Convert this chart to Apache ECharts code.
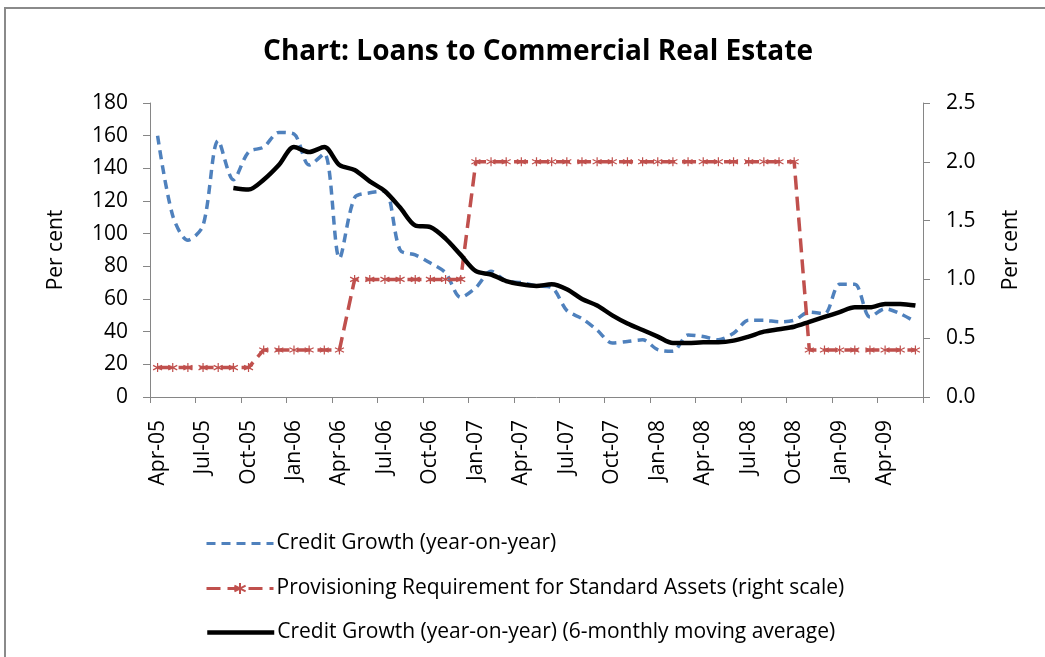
<!DOCTYPE html>
<html>
<head>
<meta charset="utf-8">
<script src="https://cdn.jsdelivr.net/npm/echarts@6/dist/echarts.min.js"></script>
<style>
    html, body {
        margin: 0;
        padding: 0;
        background: #fff;
        overflow: hidden;
    }
    #chart {
        width: 1045px;
        height: 657px;
    }
    .frame {
        position: absolute;
        left: 4px;
        top: 7px;
        width: 1200px;
        height: 800px;
        border: 2px solid #8a8a8a;
        pointer-events: none;
    }
</style>
</head>
<body>
<div id="chart"></div>
<div class="frame"></div>
<script>
// monthly, Apr-05 .. Jun-09
const months = [
    "Apr-05", "May-05", "Jun-05", "Jul-05", "Aug-05", "Sep-05", "Oct-05", "Nov-05", "Dec-05",
    "Jan-06", "Feb-06", "Mar-06", "Apr-06", "May-06", "Jun-06", "Jul-06", "Aug-06", "Sep-06",
    "Oct-06", "Nov-06", "Dec-06", "Jan-07", "Feb-07", "Mar-07", "Apr-07", "May-07", "Jun-07",
    "Jul-07", "Aug-07", "Sep-07", "Oct-07", "Nov-07", "Dec-07", "Jan-08", "Feb-08", "Mar-08",
    "Apr-08", "May-08", "Jun-08", "Jul-08", "Aug-08", "Sep-08", "Oct-08", "Nov-08", "Dec-08",
    "Jan-09", "Feb-09", "Mar-09", "Apr-09", "May-09", "Jun-09",
];

const credit_growth = [
    160, 111, 96, 105, 157, 133, 150, 153, 162,
    161, 142, 149, 85, 122, 125, 126, 90, 87,
    82, 76, 61, 67, 77, 71, 70, 68, 67,
    53, 48, 41, 33, 34, 35, 29, 28, 38,
    37, 35, 39, 47, 47, 46, 47, 52, 51,
    69, 69, 49, 54, 51, 46,
];

const provisioning = [
    0.25, 0.25, 0.25, 0.25, 0.25, 0.25, 0.25, 0.4, 0.4,
    0.4, 0.4, 0.4, 0.4, 1.0, 1.0, 1.0, 1.0, 1.0,
    1.0, 1.0, 1.0, 2.0, 2.0, 2.0, 2.0, 2.0, 2.0,
    2.0, 2.0, 2.0, 2.0, 2.0, 2.0, 2.0, 2.0, 2.0,
    2.0, 2.0, 2.0, 2.0, 2.0, 2.0, 2.0, 0.4, 0.4,
    0.4, 0.4, 0.4, 0.4, 0.4, 0.4,
];

const moving_avg = [
    null, null, null, null, null, 128, 127, 133, 142,
    153, 150, 153, 142, 139, 132, 126, 116, 105,
    104, 97, 87, 77, 75, 71, 69, 68, 69,
    66, 60, 56, 50, 45, 41, 37, 33, 33,
    33.5, 33.5, 34.5, 37, 40, 41.5, 43, 46, 49,
    52, 55, 55, 57, 57, 56,
];

const left_ticks = { min: 0, max: 180, interval: 20 };
const right_ticks = { min: 0, max: 2.5, interval: 0.5 };

const font = "Open Sans";
const asterisk = "path://M5,0L5,10M0.7,2.5L9.3,7.5M9.3,2.5L0.7,7.5";

const names = [
    "Credit Growth (year-on-year)",
    "Provisioning Requirement for Standard Assets (right scale)",
    "Credit Growth (year-on-year) (6-monthly moving average)",
];

const axis_line = { show: true, lineStyle: { color: "#868686", width: 1 } };
const hidden_mark = { color: "transparent", borderColor: "transparent", opacity: 0 };

const legend_at = function (item, top) {
    return {
        data: [item],
        left: 205,
        top: top,
        padding: 0,
        orient: "vertical",
        itemWidth: 67,
        itemHeight: 14,
        itemGap: 6,
        selectedMode: false,
        textStyle: { fontFamily: font, fontSize: 21, color: "#000", padding: [0, 0, 0, -2] },
    };
};

const config = {
    animation: false,
    textStyle: { fontFamily: font },
    title: {
        text: "Chart: Loans to Commercial Real Estate",
        left: 533,
        textAlign: "center",
        top: 33,
        textStyle: { fontFamily: font, fontSize: 28, fontWeight: "bold", color: "#000" },
    },
    grid: { left: 150, right: 122, top: 103, bottom: 260 },
    legend: [
        legend_at({ name: names[0], itemStyle: hidden_mark, lineStyle: { width: 3 } }, 533),
        legend_at({ name: names[1], lineStyle: { width: 3 } }, 578),
        legend_at({ name: names[2], itemStyle: hidden_mark, lineStyle: { width: 4.5 } }, 622),
    ],
    xAxis: {
        type: "category",
        data: months,
        boundaryGap: true,
        axisLine: axis_line,
        axisTick: { show: true, interval: 2, length: 6, lineStyle: { color: "#868686" } },
        axisLabel: {
            interval: 2,
            rotate: 90,
            margin: 23,
            fontFamily: font,
            fontSize: 21,
            color: "#000",
        },
        splitLine: { show: false },
    },
    yAxis: [
        {
            type: "value",
            min: left_ticks.min,
            max: left_ticks.max,
            interval: left_ticks.interval,
            name: "Per cent",
            nameLocation: "middle",
            nameGap: 83,
            nameRotate: 90,
            nameTextStyle: { fontFamily: font, fontSize: 21, color: "#000" },
            axisLine: axis_line,
            axisTick: { show: true, length: 7, lineStyle: { color: "#868686" } },
            axisLabel: { fontFamily: font, fontSize: 21, color: "#000", margin: 22 },
            splitLine: { show: false },
        },
        {
            type: "value",
            position: "right",
            min: right_ticks.min,
            max: right_ticks.max,
            interval: right_ticks.interval,
            name: "Per cent",
            nameLocation: "middle",
            nameGap: 78,
            nameRotate: 90,
            nameTextStyle: { fontFamily: font, fontSize: 21, color: "#000" },
            axisLine: axis_line,
            axisTick: { show: true, length: 7, lineStyle: { color: "#868686" } },
            axisLabel: {
                fontFamily: font,
                fontSize: 21,
                color: "#000",
                margin: 23,
                formatter: (v) => v.toFixed(1),
            },
            splitLine: { show: false },
        },
    ],
    series: [
        {
            name: names[0],
            type: "line",
            data: credit_growth,
            smooth: 0.3,
            symbol: "none",
            lineStyle: { color: "#4F81BD", width: 3.5, type: [9, 6] },
            itemStyle: { color: "#4F81BD" },
            z: 2,
        },
        {
            name: names[1],
            type: "line",
            yAxisIndex: 1,
            data: provisioning,
            symbol: asterisk,
            symbolSize: 9,
            showAllSymbol: true,
            lineStyle: { color: "#C0504D", width: 3.5, type: [14, 7] },
            itemStyle: { color: "#C0504D", borderColor: "#C0504D", borderWidth: 1.2 },
            z: 3,
        },
        {
            name: names[2],
            type: "line",
            data: moving_avg,
            smooth: 0.3,
            symbol: "none",
            connectNulls: false,
            lineStyle: { color: "#000", width: 4.5 },
            itemStyle: { color: "#000" },
            z: 4,
        },
    ],
};

const echart_instance = echarts.init(document.getElementById("chart"));
echart_instance.setOption(config);
</script>
</body>
</html>
